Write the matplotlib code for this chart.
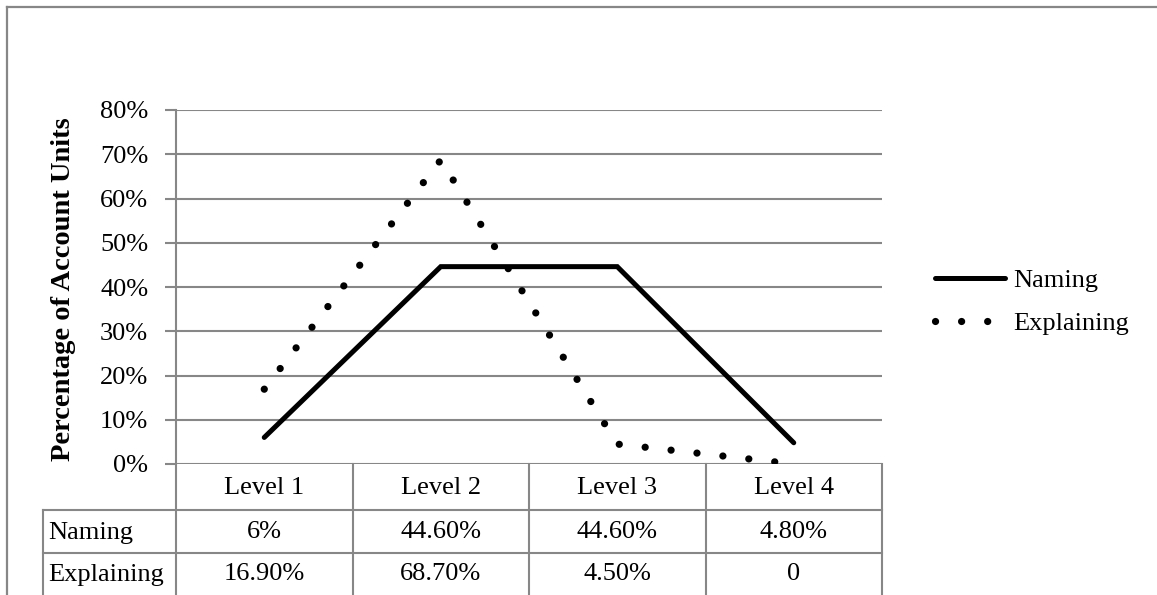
import matplotlib
matplotlib.use("Agg")
import matplotlib.pyplot as plt
import matplotlib.transforms as mtransforms
from matplotlib.lines import Line2D

# values per level, in percent
levels = ["Level 1", "Level 2", "Level 3", "Level 4"]
naming = [6.0, 44.6, 44.6, 4.8]
explaining = [16.9, 68.7, 4.5, 0.0]
series_names = ["Naming", "Explaining"]
y_ticks = [0, 10, 20, 30, 40, 50, 60, 70, 80]

GRID = "#878787"
FS = 19

plt.rcParams["font.family"] = ["Liberation Serif", "DejaVu Serif"]


def cell_text(v):
    if v == 0:
        return "0"
    if float(v).is_integer():
        return f"{v:g}%"
    return f"{v:.2f}%"


W, H = 1157, 595
fig = plt.figure(figsize=(W / 100, H / 100), dpi=100)


def fx(px):
    return px / W


def fy(py):
    return 1 - py / H


# outer chart frame (right and bottom run past the canvas)
fig.add_artist(Line2D([fx(7), 1.0], [fy(7), fy(7)], color=GRID, lw=1.6))
fig.add_artist(Line2D([fx(7), fx(7)], [fy(7), 0.0], color=GRID, lw=1.6))

plot_top, plot_bottom = 110, 464
ax = fig.add_axes([fx(176), fy(plot_bottom), fx(882 - 176), (plot_bottom - plot_top) / H])

x = list(range(len(levels)))
ax.plot(x, naming, color="black", lw=3.6, solid_capstyle="round",
        solid_joinstyle="miter", label=series_names[0])
ax.plot(x, explaining, color="black", lw=5.2, linestyle=(0, (0.01, 3.6)),
        dash_capstyle="round", label=series_names[1])

ax.set_xlim(-0.5, len(levels) - 0.5)
ax.set_ylim(0, 80)
ax.set_yticks(y_ticks)
ax.set_yticklabels([f"{t}%" for t in y_ticks])
ax.set_xticks([])
ax.yaxis.grid(True, color=GRID, lw=1.5)
ax.set_axisbelow(True)
ax.tick_params(axis="y", length=8, width=1.5, color=GRID, pad=12, labelsize=FS)
for s in ["top", "right", "bottom"]:
    ax.spines[s].set_visible(False)
ax.spines["left"].set_color(GRID)
ax.spines["left"].set_linewidth(1.5)

fig.text(fx(64), fy(289), "Percentage of Account Units", rotation=90,
         ha="center", va="center", fontsize=20.5, fontweight="bold")

# data table under the plot: x in data units, y in axes units
trans = mtransforms.blended_transform_factory(ax.transData, ax.transAxes)
ah = plot_bottom - plot_top


def ay(py):
    return (plot_bottom - py) / ah


rows = [464, 510, 553, 600]
label_left = -0.5 - (176 - 43) / 176.5
edges = [i - 0.5 for i in range(len(levels) + 1)]
line_kw = dict(color=GRID, lw=1.5, transform=trans, clip_on=False)

for r in rows[1:3]:
    ax.add_line(Line2D([label_left, edges[-1]], [ay(r), ay(r)], **line_kw))
for e in edges:
    ax.add_line(Line2D([e, e], [0, ay(rows[-1])], **line_kw))
ax.add_line(Line2D([label_left, label_left], [ay(rows[1]), ay(rows[-1])], **line_kw))

for i, lev in enumerate(levels):
    ax.text(i, ay((rows[0] + rows[1]) / 2 + 1), lev, transform=trans,
            ha="center", va="center", fontsize=FS)

for k, (name, vals) in enumerate(zip(series_names, [naming, explaining])):
    yc = ay((rows[k + 1] + rows[k + 2]) / 2 + 1 - 3 * k)
    ax.text(label_left + 5 / 176.5, yc, name, transform=trans,
            ha="left", va="center", fontsize=FS)
    for i, v in enumerate(vals):
        ax.text(i, yc, cell_text(v), transform=trans,
                ha="center", va="center", fontsize=FS)

ax.legend(loc="center left", bbox_to_anchor=(fx(935), fy(302)),
          bbox_transform=fig.transFigure, frameon=False, fontsize=FS,
          handlelength=2.65, handletextpad=0.3, labelspacing=0.75,
          borderpad=0, borderaxespad=0)

fig.savefig("out.png", dpi=100, facecolor="white")
